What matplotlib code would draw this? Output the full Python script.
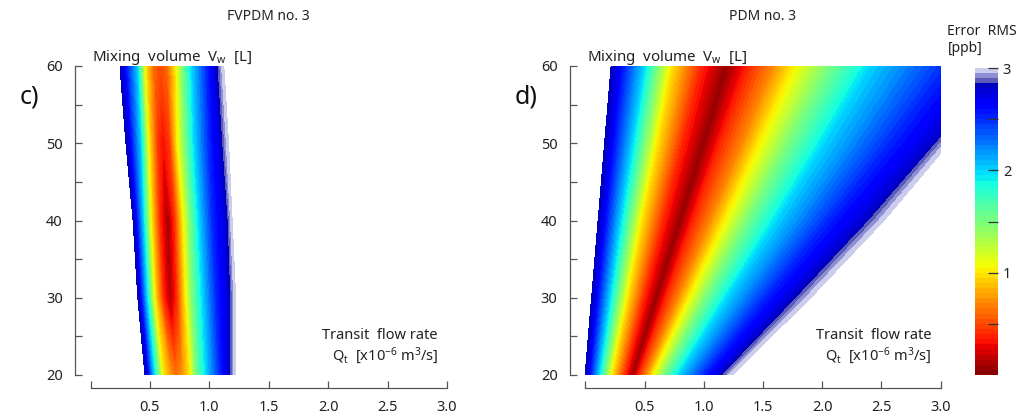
import numpy as np
import matplotlib
matplotlib.use("Agg")
import matplotlib.pyplot as plt
from matplotlib.colors import ListedColormap, BoundaryNorm

plt.rcParams['font.family'] = ['Noto Sans', 'DejaVu Sans']
plt.rcParams['mathtext.default'] = 'regular'

# mixing volume rows [L]
vw_rows = [20, 30, 40, 50, 60]

# FVPDM no. 3 : flow-rate positions of error knots along each row
fv_q = [
    [0.46, 0.53, 0.61, 0.67, 0.72, 0.78, 0.84, 0.89, 0.98, 1.09, 1.17, 1.22],
    [0.40, 0.47, 0.54, 0.61, 0.67, 0.73, 0.80, 0.86, 0.95, 1.06, 1.17, 1.22],
    [0.36, 0.44, 0.51, 0.58, 0.65, 0.71, 0.78, 0.84, 0.92, 1.03, 1.15, 1.19],
    [0.30, 0.42, 0.49, 0.56, 0.61, 0.67, 0.73, 0.80, 0.88, 1.00, 1.10, 1.16],
    [0.25, 0.39, 0.46, 0.53, 0.59, 0.65, 0.72, 0.78, 0.86, 0.98, 1.06, 1.12],
]
fv_err = [
    [2.85, 2.0, 1.0, 0.75, 0.6, 0.75, 1.0, 1.5, 2.0, 2.5, 2.8, 3.0],
    [2.85, 2.0, 1.0, 0.4, 0.12, 0.4, 1.0, 1.5, 2.0, 2.5, 2.8, 3.0],
    [2.85, 2.0, 1.0, 0.4, 0.08, 0.4, 1.0, 1.5, 2.0, 2.5, 2.8, 3.0],
    [2.85, 2.0, 1.0, 0.45, 0.3, 0.45, 1.0, 1.5, 2.0, 2.5, 2.8, 3.0],
    [2.85, 2.0, 1.0, 0.6, 0.5, 0.6, 1.0, 1.5, 2.0, 2.5, 2.8, 3.0],
]

# PDM no. 3
pdm_q = [
    [0.00, 0.11, 0.22, 0.33, 0.40, 0.46, 0.52, 0.57, 0.67, 0.80, 1.00, 1.14, 1.24],
    [0.055, 0.20, 0.35, 0.49, 0.60, 0.69, 0.79, 0.87, 1.02, 1.21, 1.52, 1.75, 1.90],
    [0.11, 0.29, 0.47, 0.65, 0.80, 0.92, 1.06, 1.17, 1.37, 1.63, 2.05, 2.36, 2.52],
    [0.165, 0.39, 0.60, 0.81, 1.00, 1.15, 1.33, 1.46, 1.72, 2.03, 2.57, 2.93, 3.07],
    [0.22, 0.49, 0.72, 0.97, 1.19, 1.39, 1.59, 1.75, 2.06, 2.42, 3.05, 3.50, 3.65],
]
pdm_err = [2.85, 2.0, 1.0, 0.4, 0.05, 0.4, 0.7, 1.0, 1.5, 2.0, 2.5, 2.8, 3.0]

levels = np.linspace(0, 3, 61)
mids = 0.5 * (levels[:-1] + levels[1:])
lav = {2.875: (0.36, 0.36, 0.72), 2.925: (0.56, 0.56, 0.84), 2.975: (0.80, 0.80, 0.93)}
cols = []
for m in mids:
    k = round(m, 3)
    cols.append(lav[k] if k in lav else plt.cm.jet(1 - m / 3))
cmap = ListedColormap(cols)
norm = BoundaryNorm(levels, cmap.N)

fig = plt.figure(figsize=(10.24, 4.18), dpi=100)
W, H = 1024, 418


def panel(x0, x1, q, err, title, letter):
    ax = fig.add_axes([x0 / W, 1 - 375 / H, (x1 - x0) / W, 309 / H])
    Q = np.array(q)
    V = np.repeat(np.array(vw_rows, float)[:, None], Q.shape[1], axis=1)
    E = np.array(err) if np.ndim(err) == 2 else np.tile(err, (len(vw_rows), 1))
    cf = ax.contourf(Q, V, E, levels=levels, cmap=cmap, norm=norm)
    cf.set_edgecolor('face')
    cf.set_linewidth(0.3)
    ax.set_xlim(0, 3)
    ax.set_ylim(20, 60)
    for s in ['top', 'right']:
        ax.spines[s].set_visible(False)
    ax.spines['left'].set_position(('outward', 11))
    ax.spines['bottom'].set_position(('outward', 9))
    ax.spines['left'].set_bounds(20, 60)
    ax.spines['bottom'].set_bounds(0, 3)
    for s in ['left', 'bottom']:
        ax.spines[s].set_color('#555555')
        ax.spines[s].set_linewidth(0.9)
    ax.set_xticks(np.arange(0, 3.01, 0.5))
    ax.set_xticklabels([''] + ['%.1f' % t for t in np.arange(0.5, 3.01, 0.5)])
    ax.set_yticks([20, 30, 40, 50, 60])
    ax.set_yticks([25, 35, 45, 55], minor=True)
    ax.tick_params(axis='both', which='both', direction='in', length=5,
                   color='#555555', labelsize=10.5, labelcolor='#222222', width=0.9)
    ax.tick_params(axis='y', pad=9)
    ax.tick_params(axis='x', pad=9)
    ax.set_title(title, fontsize=10, color='#222222', pad=33)
    ax.text(0.005, 0.997, 'Mixing  volume  V$_w$  [L]', transform=ax.transAxes,
            fontsize=10.8, color='#222222', va='bottom', ha='left')
    ax.text(-0.2, 0.9, letter, transform=ax.transAxes, fontsize=18,
            color='#111111', va='center', ha='left')
    ax.text(0.975, 0.128, 'Transit  flow rate', transform=ax.transAxes,
            fontsize=10.5, color='#222222', ha='right', va='center')
    ax.text(0.975, 0.062, 'Q$_t$  [x10$^{-6}$ m$^3$/s]', transform=ax.transAxes,
            fontsize=10.5, color='#222222', ha='right', va='center')
    return cf


panel(90.5, 447, fv_q, fv_err, 'FVPDM no. 3', 'c)')
cf = panel(585.3, 940.5, pdm_q, pdm_err, 'PDM no. 3', 'd)')

cax = fig.add_axes([975 / W, 1 - 375 / H, 23 / W, 307 / H])
cb = fig.colorbar(cf, cax=cax, ticks=[1, 2, 3])
cb.outline.set_visible(False)
cb.ax.set_yticks([0.5, 1.5, 2.5], minor=True)
cb.ax.tick_params(which='both', direction='in', length=7, color='#333333',
                  labelsize=10.5, labelcolor='#222222', width=0.9)
cb.ax.set_yticklabels(['1', '2', '3'])
cax.text(-1.2, 1.04, 'Error  RMS\n[ppb]', transform=cax.transAxes, fontsize=10,
         color='#222222', ha='left', va='bottom', linespacing=1.2)

fig.savefig('out.png', dpi=100)
